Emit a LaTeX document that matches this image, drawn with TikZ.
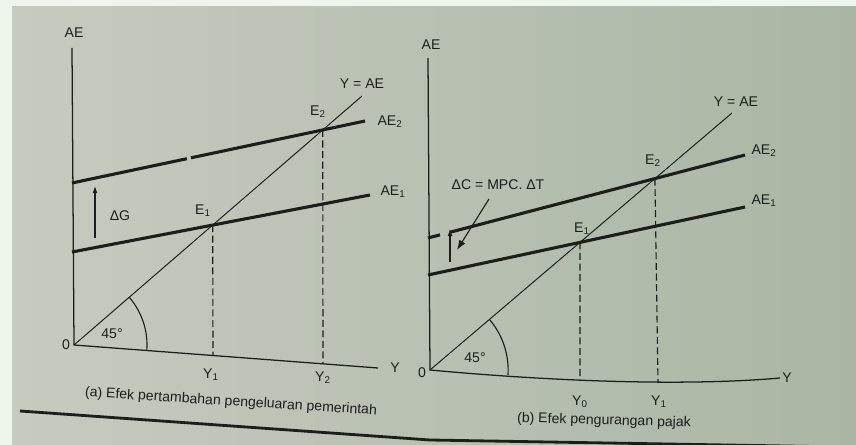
\documentclass[tikz,border=0pt]{standalone}
\usepackage{fontspec}
\setmainfont{Liberation Sans}
\usetikzlibrary{arrows.meta,calc}
\definecolor{frame}{RGB}{238,245,236}
\definecolor{paperl}{RGB}{198,203,192}
\definecolor{paperr}{RGB}{170,182,164}
\definecolor{ink}{RGB}{28,30,28}

\begin{document}
\begin{tikzpicture}[x=0.025cm,y=-0.025cm,
axis/.style={draw=ink,line width=0.9pt},
aeline/.style={draw=ink,line width=2.2pt},
diag/.style={draw=ink,line width=0.7pt},
guide/.style={draw=ink,line width=0.8pt,dash pattern=on 5pt off 2.5pt},
lbl/.style={text=ink,font=\fontsize{10}{12}\selectfont,inner sep=0.3pt}]
\useasboundingbox (0,0) rectangle (856,445);
\fill[frame] (0,0) rectangle (856,445);
\shade[left color=paperl,right color=paperr] (12,7) rectangle (856,445);

% (a) government spending
\coordinate (O1) at (74,345);
\coordinate (ytop1) at (72,48);
\coordinate (xend1) at (378,368);
\coordinate (diag1) at (362,96);
\coordinate (aea) at (72,252);
\coordinate (aeb) at (370,195);
\coordinate (aec) at (72,183);
\coordinate (aed) at (365,121);
\coordinate (E1a) at (intersection of O1--diag1 and aea--aeb);
\coordinate (E2a) at (intersection of O1--diag1 and aec--aed);
\coordinate (Y1a) at (213,356);
\coordinate (Y2a) at (323,364);
\draw[axis] (ytop1)--(O1)--(xend1);
\draw[diag] (O1)--(diag1);
\draw[aeline] (aea)--(aeb);
\draw[aeline] (aec)--($(aec)!0.392!(aed)$);
\draw[aeline] ($(aec)!0.406!(aed)$)--(aed);
\draw[guide] (E1a)--(Y1a);
\draw[guide] (E2a)--(Y2a);
\draw[-{Latex[length=5pt,width=3.5pt]},line width=0.8pt,ink] (95,238)--(95,186);
\draw[diag,line width=0.8pt] (146.8,350.5) arc[start angle=-4.3,end angle=40.8,radius=1.825cm];
\node[lbl] (ae1) at (74,33) {AE};
\node[lbl] (o1) at (66,345) {0};
\node[lbl] (ya) at (395,368) {Y};
\node[lbl] (yae1) at (362,84) {Y = AE};
\node[lbl] (lae2a) at (390,122) {AE\textsubscript{2}};
\node[lbl] (lae1a) at (393,192) {AE\textsubscript{1}};
\node[lbl] (le1a) at (203,211) {E\textsubscript{1}};
\node[lbl] (le2a) at (318,112) {E\textsubscript{2}};
\node[lbl] (dg) at (120,216) {ΔG};
\node[lbl] (ang1) at (112,334) {45°};
\node[lbl] (ly1a) at (211,375) {Y\textsubscript{1}};
\node[lbl] (ly2a) at (323,378) {Y\textsubscript{2}};
\node[lbl,rotate=-3.6] (capa) at (231,402) {(a) Efek pertambahan pengeluaran pemerintah};

% (b) tax cut
\coordinate (O2) at (430,370);
\coordinate (ytop2) at (428,58);
\coordinate (xend2) at (780,378);
\coordinate (diag2) at (732,113);
\coordinate (bea) at (428,275);
\coordinate (beb) at (745,207);
\coordinate (bec) at (428,238);
\coordinate (bed) at (745,155);
\coordinate (E1b) at (intersection of O2--diag2 and bea--beb);
\coordinate (E2b) at (intersection of O2--diag2 and bec--bed);
\coordinate (Y0b) at (580,381);
\coordinate (Y1b) at (658,383);
\draw[axis] (ytop2)--(O2) .. controls (560,382) and (690,386) .. (xend2);
\draw[diag] (O2)--(diag2);
\draw[aeline] (bea)--(beb);
\draw[aeline] (bec)--($(bec)!0.038!(bed)$);
\draw[aeline] ($(bec)!0.069!(bed)$)--(bed);
\draw[guide] (E1b)--(Y0b);
\draw[guide] (E2b)--(Y1b);
\draw[-{Latex[length=5pt,width=3.5pt]},line width=0.8pt,ink] (450,262)--(450,229);
\draw[-{Latex[length=7pt,width=5pt]},line width=0.8pt,ink] (489,199)--(457,250);
\draw[diag,line width=0.8pt] (508,375) arc[start angle=-3.6,end angle=40.4,radius=1.95cm];
\node[lbl] (ae2) at (431,45) {AE};
\node[lbl] (o2) at (422,373) {0};
\node[lbl] (yb) at (787,378) {Y};
\node[lbl] (yae2) at (736,102) {Y = AE};
\node[lbl] (lae2b) at (764,151) {AE\textsubscript{2}};
\node[lbl] (lae1b) at (764,201) {AE\textsubscript{1}};
\node[lbl] (le1b) at (582,229) {E\textsubscript{1}};
\node[lbl] (le2b) at (653,161) {E\textsubscript{2}};
\node[lbl] (dc) at (498,185) {ΔC = MPC. ΔT};
\node[lbl] (ang2) at (475,358) {45°};
\node[lbl] (ly0b) at (580,402) {Y\textsubscript{0}};
\node[lbl] (ly1b) at (659,402) {Y\textsubscript{1}};
\node[lbl,rotate=-1.5] (capb) at (604,421) {(b) Efek pengurangan pajak};

% page rule
\draw[ink,line width=2pt] (20,411)--(430,440)--(845,447);
\end{tikzpicture}
\end{document}
